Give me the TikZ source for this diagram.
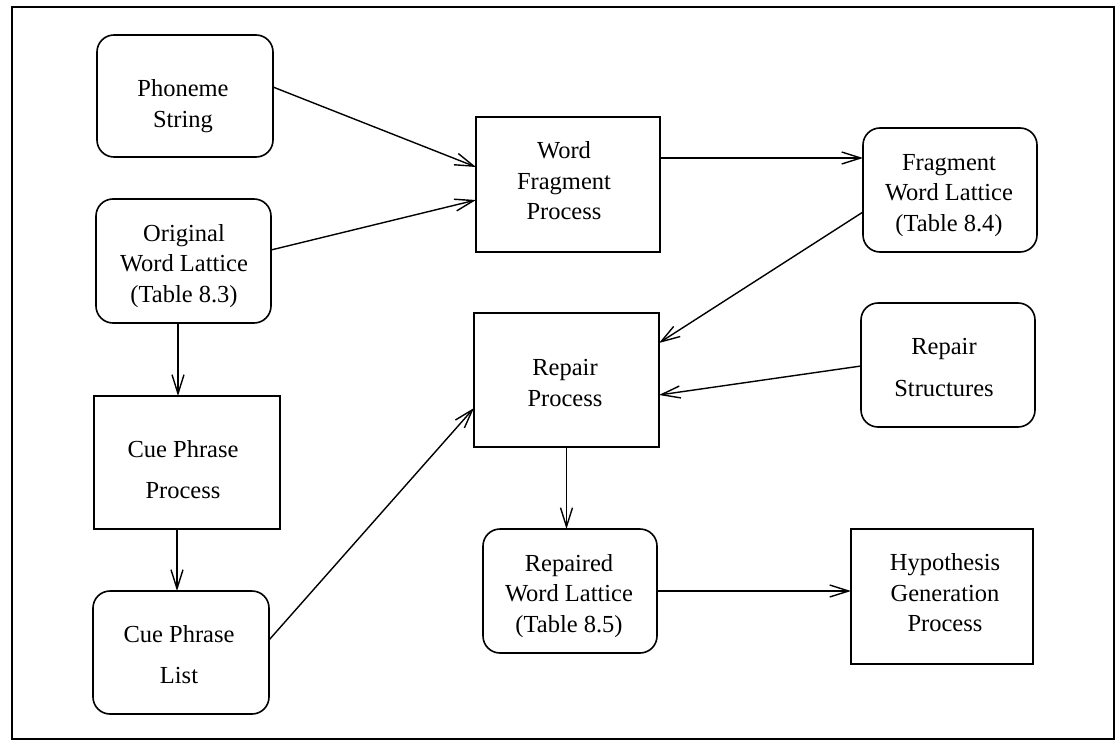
\documentclass[tikz,border=0pt]{standalone}
\usepackage{fontspec}
\setmainfont{Liberation Serif}
\usetikzlibrary{arrows.meta}
\begin{document}
\begin{tikzpicture}[x=1pt,y=-1pt,
  every node/.style={inner sep=0pt,outer sep=0pt},
  procbox/.style={draw,line width=1.6pt,rectangle},
  databox/.style={draw,line width=1.6pt,rectangle,rounded corners=17pt},
  txt/.style={align=center,font=\fontsize{24.5}{30.5}\selectfont},
  conn/.style={line width=1.4pt,-{Straight Barb[length=19pt,width=12pt]}}]
\useasboundingbox (0,0) rectangle (1118,741);
\draw[line width=1.8pt] (12,7) rectangle (1114,739);
% boxes
\node[databox,minimum width=176pt,minimum height=122pt] (phon) at (185,96) {};
\node[databox,minimum width=175pt,minimum height=124pt] (owl) at (183.5,261) {};
\node[procbox,minimum width=186pt,minimum height=133pt] (cpp) at (187,462.5) {};
\node[databox,minimum width=176pt,minimum height=123pt] (cpl) at (181,652.5) {};
\node[procbox,minimum width=184pt,minimum height=135pt] (wfp) at (568,184.5) {};
\node[procbox,minimum width=185pt,minimum height=134pt] (rp) at (566.5,380) {};
\node[databox,minimum width=174pt,minimum height=124pt] (rwl) at (570,591) {};
\node[databox,minimum width=174pt,minimum height=124pt] (fwl) at (950,190) {};
\node[databox,minimum width=174pt,minimum height=124pt] (rs) at (948,365) {};
\node[procbox,minimum width=182pt,minimum height=135pt] (hgp) at (942,596.5) {};
% texts
\node[txt] (phonT) at (183,106) {\strut Phoneme\\String\strut};
\node[txt] (owlT) at (184,265.5) {\strut Original\\Word Lattice\\(Table 8.3)\strut};
\node[txt] (cppT) at (183,472) {\strut Cue Phrase\\[10pt]Process\strut};
\node[txt] (cplT) at (179,657) {\strut Cue Phrase\\[10pt]List\strut};
\node[txt] (wfpT) at (564,183) {\strut Word\\Fragment\\Process\strut};
\node[txt] (fwlT) at (949,194.5) {\strut Fragment\\Word Lattice\\(Table 8.4)\strut};
\node[txt] (rpT) at (565,385) {\strut Repair\\Process\strut};
\node[txt] (rsT) at (944,369.5) {\strut Repair\\[11pt]Structures\strut};
\node[txt] (rwlT) at (569,595.5) {\strut Repaired\\Word Lattice\\(Table 8.5)\strut};
\node[txt] (hgpT) at (945,595) {\strut Hypothesis\\Generation\\Process\strut};
% connectors
\draw[conn] ([yshift=9pt]phon.east) -- ([yshift=17.5pt]wfp.west);
\draw[conn] ([yshift=11pt]owl.east) -- ([yshift=-15.5pt]wfp.west);
\draw[conn] ([xshift=-5.5pt]owl.south) -- ([xshift=-5.5pt]owl.south |- cpp.north);
\draw[conn] ([xshift=-10pt]cpp.south) -- ([xshift=-10pt]cpp.south |- cpl.north);
\draw[conn] ([yshift=12.5pt]cpl.east) -- ([yshift=-28pt]rp.west);
\draw[conn] ([yshift=26.5pt]wfp.east) -- ([yshift=26.5pt]wfp.east -| fwl.west);
\draw[conn] ([yshift=-22pt]fwl.west) -- ([yshift=37pt]rp.east);
\draw[conn] ([yshift=-1pt]rs.west) -- ([yshift=-15pt]rp.east);
\draw[conn] (rp.south) -- (rp.south |- rwl.north);
\draw[conn] (rwl.east) -- (rwl.east -| hgp.west);
\end{tikzpicture}
\end{document}
